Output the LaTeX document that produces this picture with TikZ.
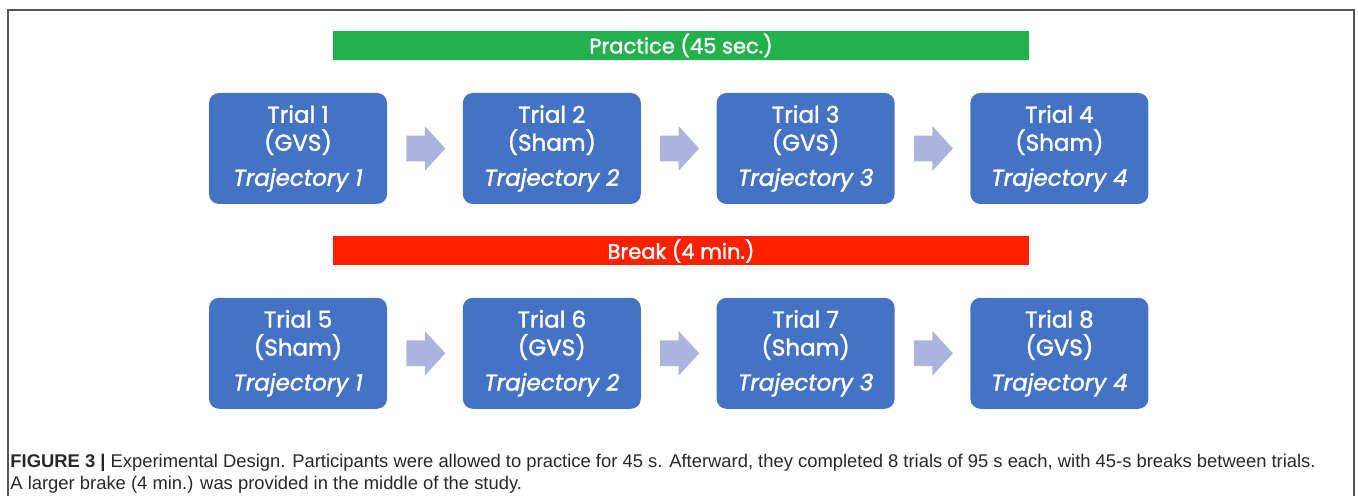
\documentclass[tikz,border=0pt]{standalone}
\usepackage{fontspec}
\setmainfont{Liberation Sans}
\newfontfamily\boxfont[FakeBold=1.6]{Poppins}
\usepackage{tikz}
\usetikzlibrary{positioning,shapes.arrows}

\definecolor{trialblue}{RGB}{68,114,196}
\definecolor{arrowblue}{RGB}{170,180,222}
\definecolor{practicegreen}{RGB}{34,177,76}
\definecolor{breakred}{RGB}{255,32,0}
\definecolor{captiongray}{RGB}{40,40,40}
\definecolor{framegray}{RGB}{85,85,85}

\tikzset{
	trial/.style={rectangle, rounded corners=5pt, fill=trialblue, text=white,
		minimum width=89pt, minimum height=55.5pt, inner sep=0pt, align=center,
		font=\boxfont\fontsize{11.5}{14}\selectfont},
	bar/.style={rectangle, minimum width=348pt, minimum height=14.5pt, inner sep=0pt,
		text=white, font=\boxfont\fontsize{10.5}{12}\selectfont},
	flow/.style={single arrow, fill=arrowblue, inner xsep=0pt, inner ysep=6.25pt,
		minimum height=19.5pt, minimum width=22pt, xshift=-2.5pt,
		single arrow head extend=4.75pt, single arrow tip angle=95}
}

\begin{document}
\begin{tikzpicture}[x=0.5pt, y=-0.5pt]
	\useasboundingbox (0,0) rectangle (1358,496);
	\draw[framegray, line width=0.6pt] (8,500) -- (8,10) -- (1354,10) -- (1354,500);

	\node[bar, fill=practicegreen] (practice) at (681,45.5) {Practice (45 sec.)};

	\node[trial] (t1) at (298,148.5)    {Trial 1\\(GVS)\\[3.5pt]\textit{Trajectory 1}};
	\node[trial] (t2) [right=37.5pt of t1] {Trial 2\\(Sham)\\[3.5pt]\textit{Trajectory 2}};
	\node[trial] (t3) [right=37.5pt of t2] {Trial 3\\(GVS)\\[3.5pt]\textit{Trajectory 3}};
	\node[trial] (t4) [right=37.5pt of t3] {Trial 4\\(Sham)\\[3.5pt]\textit{Trajectory 4}};

	\path (t1) -- (t2) node[flow, midway] (a12) {};
	\path (t2) -- (t3) node[flow, midway] (a23) {};
	\path (t3) -- (t4) node[flow, midway] (a34) {};

	\node[bar, fill=breakred] (break) at (681,251) {Break (4 min.)};

	\node[trial] (t5) [below=46.5pt of t1] {Trial 5\\(Sham)\\[3.5pt]\textit{Trajectory 1}};
	\node[trial] (t6) [right=37.5pt of t5] {Trial 6\\(GVS)\\[3.5pt]\textit{Trajectory 2}};
	\node[trial] (t7) [right=37.5pt of t6] {Trial 7\\(Sham)\\[3.5pt]\textit{Trajectory 3}};
	\node[trial] (t8) [right=37.5pt of t7] {Trial 8\\(GVS)\\[3.5pt]\textit{Trajectory 4}};

	\path (t5) -- (t6) node[flow, midway] (a56) {};
	\path (t6) -- (t7) node[flow, midway] (a67) {};
	\path (t7) -- (t8) node[flow, midway] (a78) {};

	% caption
	\node[anchor=north west, align=left, inner sep=0pt, text=captiongray,
		font=\fontsize{9.2}{11}\selectfont] (caption) at (10,454)
		{\textbf{FIGURE 3 |} Experimental Design. Participants were allowed to practice for 45 s. Afterward, they completed 8 trials of 95 s each, with 45-s breaks between trials.\\
		A larger brake (4 min.) was provided in the middle of the study.};
\end{tikzpicture}
\end{document}
